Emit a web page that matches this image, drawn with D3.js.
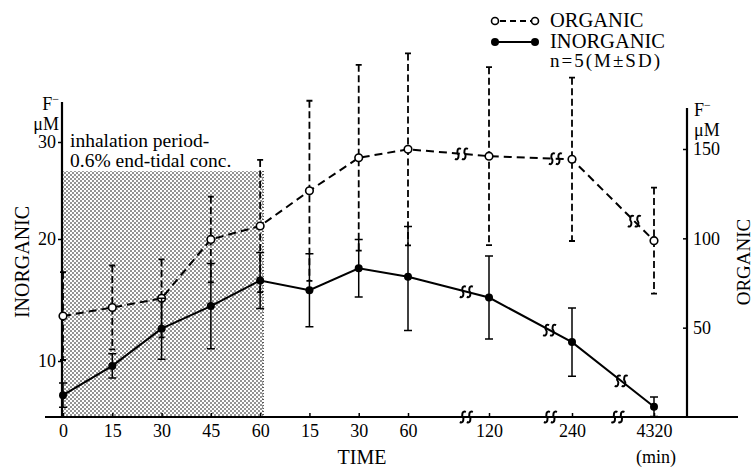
<!DOCTYPE html>
<html>
<head>
<meta charset="utf-8">
<script src="https://cdn.jsdelivr.net/npm/d3@7"></script>
<style>
  body { margin: 0; background: #fff; }
  svg, svg text { font-family: "Liberation Serif", "DejaVu Serif", serif; }
  svg { display: block; }
</style>
</head>
<body>
<svg id="chart" width="755" height="470" font-family="Liberation Serif, DejaVu Serif, serif"></svg>
<script>
// sampling times (min), two hours of minutes then longer gaps
const timeLabels = ['0', '15', '30', '45', '60', '15', '30', '60', '120', '240', '4320'];
// organic F- (uM), right axis
const organicMean = [56.5, 61.3, 66.4, 99.4, 106.9, 126.6, 145.1, 149.8, 146, 144.2, 98.7];
const organicSD = [24.6, 23.5, 21.8, 24, 37, 50.4, 52, 53.7, 49.8, 45.7, 29.7];
// inorganic F- (uM), left axis
const inorganicMean = [7.2, 9.6, 12.65, 14.5, 16.6, 15.8, 17.6, 16.9, 15.2, 11.55, 6.25];
const inorganicSD = [1.0, 1.0, 2.5, 3.5, 2.3, 3.0, 2.35, 4.4, 3.4, 2.8, 0.8];
const leftTicks = [10, 20, 30];
const rightTicks = [50, 100, 150];
// where the time axis / lines are broken (in time-index units)
const axisBreaks = [7.72, 8.74, 9.56];
const organicBreaks = [7.66, 8.8, 9.76];
const inorganicBreaks = [7.72, 8.73, 9.6];
// inhalation period: index span and top of shading (inorganic scale)
const inhalationSpan = [0, 4];
const inhalationTop = 27;

const svg = d3.select('#chart');
const baseY = 417;

// the printed axes are not quite even, so piecewise scales
const x = d3.scaleLinear().domain([0, 7, 8, 9, 10]).range([63, 408, 489, 572, 654]);
const yL = d3.scaleLinear().domain([10, 20, 30]).range([361, 239, 142]);
const yR = d3.scaleLinear().domain([0, 150]).range([baseY, 149]);

const defs = svg.append('defs');
const pat = defs.append('pattern').attr('id', 'dots')
  .attr('width', 4).attr('height', 4).attr('patternUnits', 'userSpaceOnUse');
pat.append('rect').attr('width', 4).attr('height', 4).attr('fill', '#fff');
pat.append('circle').attr('cx', 1).attr('cy', 1).attr('r', 0.95).attr('fill', '#666');
pat.append('circle').attr('cx', 3).attr('cy', 3).attr('r', 0.95).attr('fill', '#666');

// shaded inhalation period
const sx0 = x(inhalationSpan[0]) - 1, sx1 = x(inhalationSpan[1]) + 3;
svg.append('rect')
  .attr('x', sx0).attr('y', yL(inhalationTop))
  .attr('width', sx1 - sx0).attr('height', baseY - yL(inhalationTop))
  .attr('fill', 'url(#dots)');
svg.append('line')
  .attr('x1', sx1).attr('x2', sx1).attr('y1', yL(inhalationTop)).attr('y2', baseY)
  .attr('stroke', '#222').attr('stroke-width', 1.2).attr('stroke-dasharray', '1,2');

svg.append('text').attr('x', 70).attr('y', 147).attr('font-size', 19.5).text('inhalation period-');
svg.append('text').attr('x', 70).attr('y', 167).attr('font-size', 19.5).text('0.6% end-tidal conc.');

// axes
const fixAxis = g => {
  g.attr('font-family', null);
  g.select('.domain').remove();
  g.selectAll('text').attr('fill', '#000');
  g.selectAll('line').attr('stroke', '#000').attr('stroke-width', 1.5);
};

svg.append('g').attr('transform', `translate(${x(0) - 1},0)`)
  .call(d3.axisLeft(yL).tickValues(leftTicks).tickSize(4).tickPadding(2))
  .attr('font-size', 18)
  .call(fixAxis);

svg.append('g').attr('transform', 'translate(687,0)')
  .call(d3.axisRight(yR).tickValues(rightTicks).tickSizeInner(-4).tickSizeOuter(0).tickPadding(6))
  .attr('font-size', 18)
  .call(fixAxis);

svg.append('g').attr('transform', `translate(0,${baseY})`)
  .call(d3.axisBottom(x).tickValues(d3.range(timeLabels.length))
    .tickFormat(i => timeLabels[i]).tickSizeInner(-4).tickSizeOuter(0).tickPadding(7))
  .attr('font-size', 18)
  .call(fixAxis);

// axis lines
svg.append('line').attr('x1', 45).attr('x2', 738).attr('y1', baseY).attr('y2', baseY)
  .attr('stroke', '#000').attr('stroke-width', 2.2);
svg.append('line').attr('x1', x(0) - 1).attr('x2', x(0) - 1).attr('y1', 102).attr('y2', baseY)
  .attr('stroke', '#000').attr('stroke-width', 2.2);
svg.append('line').attr('x1', 687).attr('x2', 687).attr('y1', 108).attr('y2', baseY)
  .attr('stroke', '#000').attr('stroke-width', 2.2);

// break marks, two small S curls
function breakPath(cx, cy) {
  let p = '';
  [-3.5, 3.5].forEach(dx => {
    const c = cx + dx;
    p += `M${c - 3},${cy + 5}C${c + 1},${cy + 7} ${c + 1},${cy + 1} ${c},${cy}` +
         `C${c - 1},${cy - 1} ${c - 1},${cy - 7} ${c + 3},${cy - 5}`;
  });
  return p;
}
function yOnLine(vals, scale, b) {
  const i = Math.floor(b), t = b - i;
  return scale(vals[i]) + (scale(vals[i + 1]) - scale(vals[i])) * t;
}
svg.append('g').selectAll('path').data(axisBreaks).join('path')
  .attr('d', b => breakPath(x(b), baseY))
  .attr('fill', 'none').attr('stroke', '#000').attr('stroke-width', 2);

// organic series (dashed, open circles)
const orgG = svg.append('g');
orgG.selectAll('line.err').data(organicMean).join('line').attr('class', 'err')
  .attr('x1', (d, i) => x(i)).attr('x2', (d, i) => x(i))
  .attr('y1', (d, i) => yR(d + organicSD[i])).attr('y2', (d, i) => yR(d - organicSD[i]))
  .attr('stroke', '#000').attr('stroke-width', 1.8).attr('stroke-dasharray', '7,3.5');
orgG.selectAll('path.cap').data(organicMean).join('path').attr('class', 'cap')
  .attr('d', (d, i) => `M${x(i) - 3},${yR(d + organicSD[i])}H${x(i) + 3}M${x(i) - 3},${yR(d - organicSD[i])}H${x(i) + 3}`)
  .attr('stroke', '#000').attr('stroke-width', 1.8);
orgG.append('path').datum(organicMean)
  .attr('d', d3.line().x((d, i) => x(i)).y(d => yR(d)))
  .attr('fill', 'none').attr('stroke', '#000').attr('stroke-width', 2).attr('stroke-dasharray', '8,5');
orgG.selectAll('path.brk').data(organicBreaks).join('path').attr('class', 'brk')
  .attr('d', b => breakPath(x(b), yOnLine(organicMean, yR, b)))
  .attr('fill', 'none').attr('stroke', '#000').attr('stroke-width', 2);

// inorganic series (solid, filled circles)
const inoG = svg.append('g');
inoG.selectAll('line.err').data(inorganicMean).join('line').attr('class', 'err')
  .attr('x1', (d, i) => x(i)).attr('x2', (d, i) => x(i))
  .attr('y1', (d, i) => yL(d + inorganicSD[i])).attr('y2', (d, i) => yL(d - inorganicSD[i]))
  .attr('stroke', '#000').attr('stroke-width', 1.5);
inoG.selectAll('path.cap').data(inorganicMean).join('path').attr('class', 'cap')
  .attr('d', (d, i) => `M${x(i) - 4},${yL(d + inorganicSD[i])}H${x(i) + 4}M${x(i) - 4},${yL(d - inorganicSD[i])}H${x(i) + 4}`)
  .attr('stroke', '#000').attr('stroke-width', 1.5);
inoG.append('path').datum(inorganicMean)
  .attr('d', d3.line().x((d, i) => x(i)).y(d => yL(d)))
  .attr('fill', 'none').attr('stroke', '#000').attr('stroke-width', 2);
inoG.selectAll('path.brk').data(inorganicBreaks).join('path').attr('class', 'brk')
  .attr('d', b => breakPath(x(b), yOnLine(inorganicMean, yL, b)))
  .attr('fill', 'none').attr('stroke', '#000').attr('stroke-width', 2);

orgG.selectAll('circle').data(organicMean).join('circle')
  .attr('cx', (d, i) => x(i)).attr('cy', d => yR(d)).attr('r', 3.8)
  .attr('fill', '#fff').attr('stroke', '#000').attr('stroke-width', 1.6);
inoG.selectAll('circle').data(inorganicMean).join('circle')
  .attr('cx', (d, i) => x(i)).attr('cy', d => yL(d)).attr('r', 4)
  .attr('fill', '#000');

// unit labels
const unit = (xx, y1, anchor) => {
  const t = svg.append('text').attr('x', xx).attr('y', y1).attr('font-size', 18).attr('text-anchor', anchor);
  t.append('tspan').text('F');
  t.append('tspan').attr('dy', -7).attr('font-size', 12).text('\u2212');
  svg.append('text').attr('x', xx).attr('y', y1 + 20).attr('font-size', 18).attr('text-anchor', anchor).text('\u03bcM');
};
unit(59, 110, 'end');
unit(694, 116, 'start');

// axis titles
svg.append('text').attr('transform', 'translate(29,262) rotate(-90)')
  .attr('text-anchor', 'middle').attr('font-size', 20).text('INORGANIC');
svg.append('text').attr('transform', 'translate(750,262) rotate(-90)')
  .attr('text-anchor', 'middle').attr('font-size', 19).text('ORGANIC');
svg.append('text').attr('x', 362).attr('y', 464).attr('text-anchor', 'middle').attr('font-size', 20).text('TIME');
svg.append('text').attr('x', 656).attr('y', 463).attr('text-anchor', 'middle').attr('font-size', 18).text('(min)');

// legend
const leg = svg.append('g');
leg.append('line').attr('x1', 495).attr('x2', 535).attr('y1', 21).attr('y2', 21)
  .attr('stroke', '#000').attr('stroke-width', 2).attr('stroke-dasharray', '6,4').attr('stroke-dashoffset', -5);
leg.selectAll('circle.o').data([495, 535]).join('circle').attr('class', 'o')
  .attr('cx', d => d).attr('cy', 21).attr('r', 3.5)
  .attr('fill', '#fff').attr('stroke', '#000').attr('stroke-width', 1.6);
leg.append('line').attr('x1', 495).attr('x2', 535).attr('y1', 42).attr('y2', 42)
  .attr('stroke', '#000').attr('stroke-width', 2);
leg.selectAll('circle.f').data([495, 535]).join('circle').attr('class', 'f')
  .attr('cx', d => d).attr('cy', 42).attr('r', 4).attr('fill', '#000');
leg.append('text').attr('x', 550).attr('y', 27).attr('font-size', 20.5).text('ORGANIC');
leg.append('text').attr('x', 550).attr('y', 48).attr('font-size', 20.5).text('INORGANIC');
leg.append('text').attr('x', 550).attr('y', 67).attr('font-size', 19).attr('letter-spacing', 2).text('n=5(M\u00b1SD)');
</script>
</body>
</html>
